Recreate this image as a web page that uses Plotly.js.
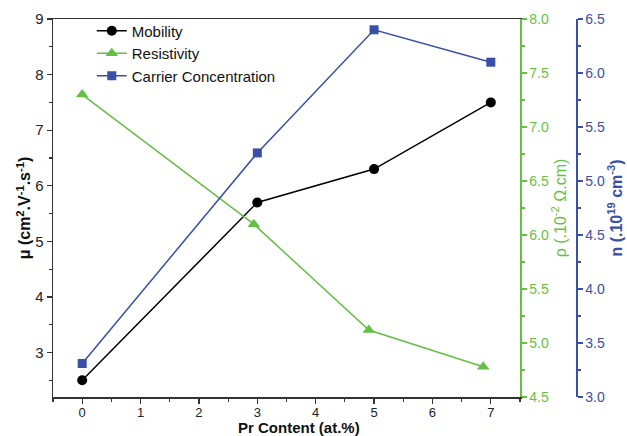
<!DOCTYPE html>
<html>
<head>
<meta charset="utf-8">
<script src="https://cdn.plot.ly/plotly-3.0.1.min.js"></script>
<style>body{margin:0;padding:0;background:#fff;}#chart{width:627px;height:436px;}</style>
</head>
<body>
<div id="chart"></div>
<script>
const prContent = [0, 3, 5, 7];
const prContentRho = [0, 2.94, 4.91, 6.87];
const mobility = [2.5, 5.7, 6.3, 7.5];
const resistivity = [7.3, 6.1, 5.12, 4.78];
const carrier = [3.31, 5.26, 6.4, 6.1];
const seriesNames = ['Mobility', 'Resistivity', 'Carrier Concentration'];
const xTitle = 'Pr Content (at.%)';

const GREEN = '#66BF45';
const BLUE = '#3A4FA6';
const FONT = 'Liberation Sans, Arial, sans-serif';

const traces = [
  {x: prContent, y: mobility, name: seriesNames[0], type: 'scatter', mode: 'lines+markers',
   line: {color: '#000', width: 1.5}, marker: {symbol: 'circle', size: 10, color: '#000'}, yaxis: 'y'},
  {x: prContentRho, y: resistivity, name: seriesNames[1], type: 'scatter', mode: 'lines+markers',
   line: {color: GREEN, width: 1.5}, marker: {symbol: 'triangle-up', size: 11, color: GREEN}, yaxis: 'y2'},
  {x: prContent, y: carrier, name: seriesNames[2], type: 'scatter', mode: 'lines+markers',
   line: {color: BLUE, width: 1.5}, marker: {symbol: 'square', size: 9, color: BLUE}, yaxis: 'y3'}
];

const W = 627, L = 53, R = 20;
const pw = W - L - R;
const xEnd = (520 - L) / pw;
const bluePos = (576 - L) / pw;

const layout = {
  width: 627, height: 436,
  margin: {l: L, r: R, t: 19, b: 39},
  paper_bgcolor: '#fff', plot_bgcolor: '#fff',
  font: {family: FONT, size: 14, color: '#222'},
  showlegend: true,
  legend: {x: 0.07, y: 1.012, xanchor: 'left', yanchor: 'top', bgcolor: 'rgba(0,0,0,0)',
           font: {family: FONT, size: 15, color: '#111'}, tracegroupgap: 0, itemwidth: 30},
  xaxis: {domain: [0, xEnd], range: [-0.5, 7.5], dtick: 1, tick0: 0,
          showgrid: false, zeroline: false, showline: true, linecolor: '#333', linewidth: 1.5, mirror: true,
          ticks: 'outside', ticklen: 5, tickcolor: '#333', tickwidth: 1.2, ticklabelstandoff: -2,
          minor: {dtick: 0.5, ticklen: 3, ticks: 'outside', tickcolor: '#333', tickwidth: 1.2},
          tickfont: {size: 13, color: '#222'}},
  yaxis: {range: [2.2, 9], dtick: 1, tick0: 0, showgrid: false, zeroline: false,
          showline: true, linecolor: '#333', linewidth: 1.5,
          ticks: 'outside', ticklen: 5, tickcolor: '#333', tickwidth: 1.2,
          minor: {dtick: 0.5, ticklen: 3, ticks: 'outside', tickcolor: '#333', tickwidth: 1.2},
          tickfont: {size: 15, color: '#222'},
          title: {text: '<b>μ (cm<sup>2</sup>.V<sup>-1</sup>.s<sup>-1</sup>)</b>', font: {size: 16, color: '#111'}, standoff: 0}},
  yaxis2: {overlaying: 'y', side: 'right', anchor: 'x', range: [4.5, 8], dtick: 0.5, tick0: 0,
           tickformat: '.1f', showgrid: false, zeroline: false,
           showline: true, linecolor: GREEN, linewidth: 1.5,
           ticks: 'outside', ticklen: 5, tickcolor: GREEN, tickwidth: 1.2,
           minor: {dtick: 0.25, ticklen: 3, ticks: 'outside', tickcolor: GREEN, tickwidth: 1.2},
           tickfont: {size: 14, color: GREEN},
           title: {text: 'ρ (.10<sup>-2</sup> Ω.cm)', font: {size: 16, color: GREEN}, standoff: 4}},
  yaxis3: {overlaying: 'y', side: 'right', anchor: 'free', position: bluePos, range: [3, 6.5], dtick: 0.5, tick0: 0,
           tickformat: '.1f', showgrid: false, zeroline: false,
           showline: true, linecolor: BLUE, linewidth: 1.5,
           ticks: 'outside', ticklen: 5, tickcolor: BLUE, tickwidth: 1.2,
           minor: {dtick: 0.25, ticklen: 3, ticks: 'outside', tickcolor: BLUE, tickwidth: 1.2},
           tickfont: {size: 14, color: BLUE},
           title: {text: '<b>n (.10<sup>19</sup> cm<sup>-3</sup>)</b>', font: {size: 16, color: BLUE}, standoff: 4}},
  annotations: [{
    text: '<b>' + xTitle + '</b>', xref: 'paper', yref: 'paper',
    x: (299 - L) / pw, y: -(427 - 397) / (436 - 19 - 39), xanchor: 'center', yanchor: 'middle',
    showarrow: false, borderpad: 0, font: {family: FONT, size: 15, color: '#111'}
  }]
};

Plotly.newPlot('chart', traces, layout, {displayModeBar: false, staticPlot: true});
</script>
</body>
</html>
